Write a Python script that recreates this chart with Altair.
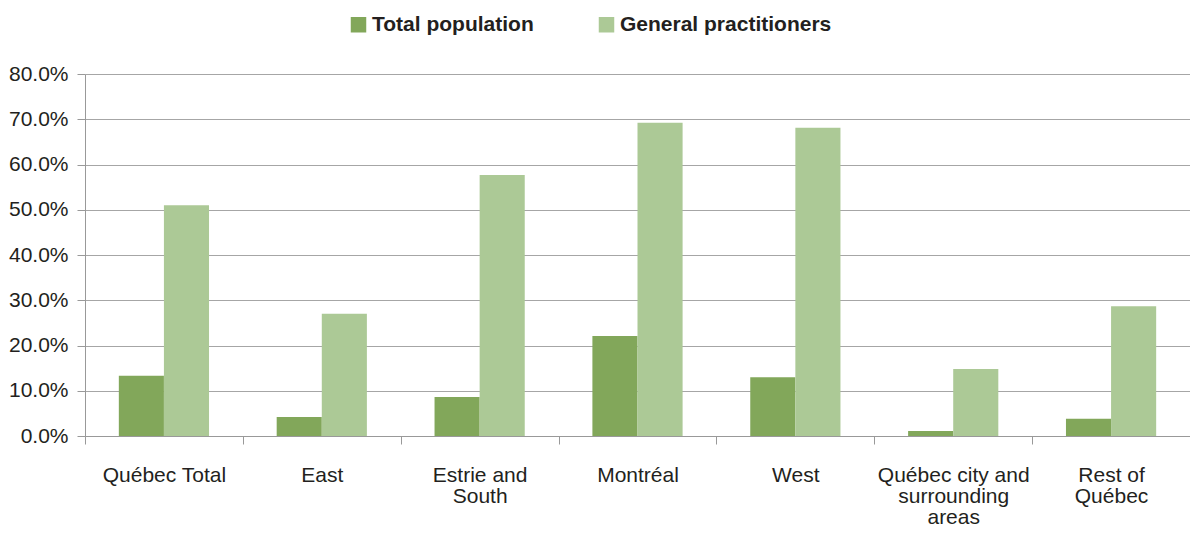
import altair as alt
import pandas as pd

regions = ["Québec Total", "East", "Estrie and\nSouth", "Montréal", "West",
           "Québec city and\nsurrounding\nareas", "Rest of\nQuébec"]
series = ["Total population", "General practitioners"]
total_population = [0.133, 0.042, 0.086, 0.221, 0.130, 0.011, 0.038]
general_practitioners = [0.510, 0.270, 0.577, 0.692, 0.681, 0.148, 0.287]

rows = []
for i, r in enumerate(regions):
    rows.append({"region": r, "series": series[0], "value": total_population[i]})
    rows.append({"region": r, "series": series[1], "value": general_practitioners[i]})
df = pd.DataFrame(rows)

FONT = "Liberation Sans"
TXT = "#231f20"

chart = alt.Chart(df).mark_bar().encode(
    x=alt.X("region:N", sort=regions,
            scale=alt.Scale(paddingInner=0, paddingOuter=0),
            axis=alt.Axis(title=None, labelAngle=0, tickBand="extent",
                          labelExpr="split(datum.label, '\\n')",
                          labelFontSize=21, labelLineHeight=21, labelPadding=20,
                          labelColor=TXT, labelFont=FONT, labelLimit=300,
                          tickSize=8, tickColor="#999999", domainColor="#999999",
                          labelBaseline="top", grid=False)),
    xOffset=alt.XOffset("series:N", sort=series,
                        scale=alt.Scale(paddingInner=0, paddingOuter=0.75)),
    y=alt.Y("value:Q", scale=alt.Scale(domain=[0, 0.8], nice=False),
            axis=alt.Axis(title=None, format=".1%", values=[i / 10 for i in range(9)],
                          labelFontSize=21, labelColor=TXT, labelFont=FONT,
                          labelPadding=9,
                          tickSize=8, tickColor="#999999", domainColor="#999999",
                          gridColor="#a6a6a6", grid=True)),
    color=alt.Color("series:N", sort=series,
                    scale=alt.Scale(domain=series, range=["#82a75a", "#acc996"]),
                    legend=alt.Legend(title=None, orient="none", direction="horizontal",
                                      legendX=263, legendY=-60,
                                      symbolType="square", symbolSize=240,
                                      symbolStrokeWidth=0, symbolOpacity=1,
                                      labelFontSize=21, labelFont=FONT,
                                      labelFontWeight="bold", labelColor=TXT,
                                      labelLimit=400,
                                      labelOffset=3, columnPadding=62)),
).properties(
    width=1105, height=362,
    autosize=alt.AutoSizeParams(type="none"),
    padding={"left": 77, "top": 66, "right": 0, "bottom": 92},
    background="white"
).configure_view(stroke=None)

chart.save("out.html", embed_options={"renderer": "svg", "actions": False})
